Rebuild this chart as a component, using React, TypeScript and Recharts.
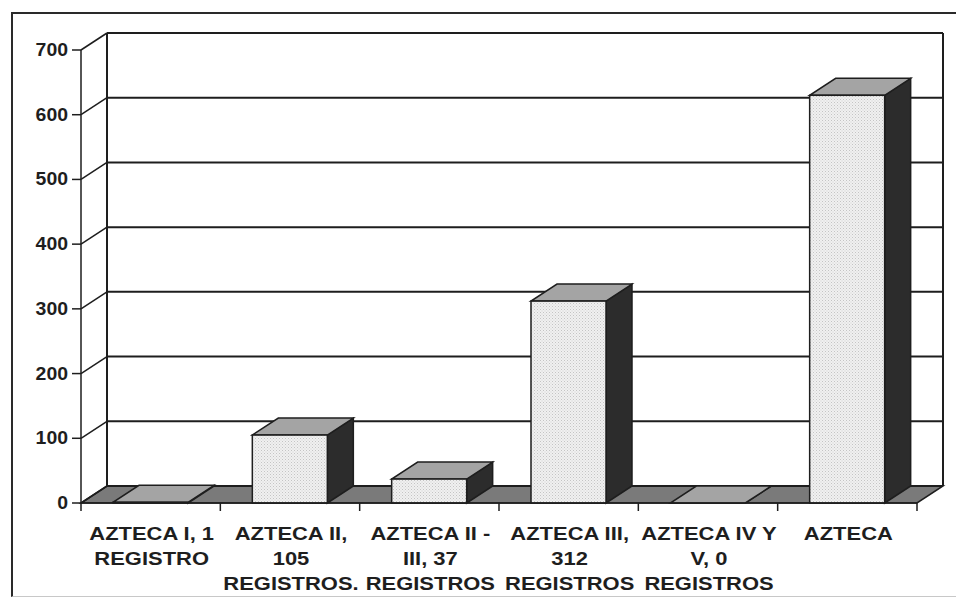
import React from "react"
import { BarChart, Bar, XAxis, YAxis, CartesianGrid } from "recharts"

const categories = [
  "AZTECA I, 1 REGISTRO",
  "AZTECA II, 105 REGISTROS.",
  "AZTECA II - III, 37 REGISTROS",
  "AZTECA III, 312 REGISTROS",
  "AZTECA IV Y V, 0 REGISTROS",
  "AZTECA",
]
const tickLines = [
  ["AZTECA I, 1", "REGISTRO"],
  ["AZTECA II,", "105", "REGISTROS."],
  ["AZTECA II -", "III, 37", "REGISTROS"],
  ["AZTECA III,", "312", "REGISTROS"],
  ["AZTECA IV Y", "V, 0", "REGISTROS"],
  ["AZTECA"],
]
const registros = [1, 105, 37, 312, 0, 630]
const yTicks = [0, 100, 200, 300, 400, 500, 600, 700]

const data = categories.map((name, i) => ({ name, value: registros[i] }))

// layout
const W = 956
const H = 608
const MT = 50
const MR = 39
const YW = 81
const XH = 105
const PLOT_LEFT = YW
const PLOT_RIGHT = W - MR
const PLOT_TOP = MT
const ZERO_Y = H - XH
const BAND = (PLOT_RIGHT - PLOT_LEFT) / categories.length
// 3d depth offset
const DX = 26
const DY = 17

const INK = "#1e1e1e"
const FONT = "'Liberation Sans', Arial, sans-serif"

const GridLine = (props: any) => {
  const { x1, x2, y1, index } = props
  const isTop = Math.abs(y1 - PLOT_TOP) < 1
  const isZero = Math.abs(y1 - ZERO_Y) < 1
  return (
    <g key={`grid-${index}`}>
      {isZero && (
        <polygon
          points={`${x1},${y1} ${x2},${y1} ${x2 + DX},${y1 - DY} ${x1 + DX},${y1 - DY}`}
          fill="#7a7a7a"
          stroke={INK}
          strokeWidth={1.5}
        />
      )}
      {isTop && (
        <>
          <line x1={x1 + DX} y1={y1 - DY} x2={x1 + DX} y2={ZERO_Y - DY} stroke={INK} strokeWidth={2} />
          <line x1={x2 + DX} y1={y1 - DY} x2={x2 + DX} y2={ZERO_Y - DY} stroke={INK} strokeWidth={2} />
        </>
      )}
      <line x1={x1} y1={y1} x2={x1 + DX} y2={y1 - DY} stroke={INK} strokeWidth={1.5} />
      <line x1={x1 + DX} y1={y1 - DY} x2={x2 + DX} y2={y1 - DY} stroke={INK} strokeWidth={2} />
    </g>
  )
}

const Box3D = (props: any) => {
  const { x, y, width, height, index } = props
  const h = Math.max(height || 0, 0)
  const top = y + (height || 0) - h
  const bottom = top + h
  const pid = `stipple-${index}`
  return (
    <g>
      <defs>
        <pattern id={pid} width={3} height={3} patternUnits="userSpaceOnUse">
          <rect width={3} height={3} fill="#f0f0f0" />
          <rect x={0} y={0} width={1} height={1} fill="#c4c4c4" />
          <rect x={1.5} y={1.5} width={1} height={1} fill="#d2d2d2" />
        </pattern>
      </defs>
      <polygon
        points={`${x + width},${top} ${x + width + DX},${top - DY} ${x + width + DX},${bottom - DY} ${x + width},${bottom}`}
        fill="#2c2c2c"
        stroke={INK}
        strokeWidth={1.5}
      />
      <polygon
        points={`${x},${top} ${x + width},${top} ${x + width + DX},${top - DY} ${x + DX},${top - DY}`}
        fill="#a4a4a4"
        stroke={INK}
        strokeWidth={1.5}
      />
      {h > 0 && (
        <rect x={x} y={top} width={width} height={h} fill={`url(#${pid})`} stroke={INK} strokeWidth={1.5} />
      )}
    </g>
  )
}

const XTick = (props: any) => {
  const { x, y, payload } = props
  const idx = payload && typeof payload.index === "number" ? payload.index : categories.indexOf(payload.value)
  const lines = tickLines[idx] || [payload.value]
  const left = x - BAND / 2
  return (
    <g>
      <line x1={left} y1={y} x2={left} y2={y + 8} stroke={INK} strokeWidth={1.5} />
      {idx === categories.length - 1 && (
        <line x1={left + BAND} y1={y} x2={left + BAND} y2={y + 8} stroke={INK} strokeWidth={1.5} />
      )}
      {lines.map((t, i) => (
        <text
          key={i}
          transform={`translate(${x + 1},${y + 37 + i * 25}) scale(1.22,1)`}
          x={0}
          y={0}
          textAnchor="middle"
          fontFamily={FONT}
          fontWeight="bold"
          fontSize={18}
          fill={INK}
        >
          {t}
        </text>
      ))}
    </g>
  )
}

const YTick = (props: any) => {
  const { y, payload } = props
  return (
    <text
      transform={`translate(68,${y + 6}) scale(1.08,1)`}
      x={0}
      y={0}
      textAnchor="end"
      fontFamily={FONT}
      fontWeight="bold"
      fontSize={18}
      fill={INK}
    >
      {payload.value}
    </text>
  )
}

export default function App() {
  return (
    <div style={{ position: "absolute", left: 0, top: 0, width: W, height: H, background: "#fff" }}>
      <div
        style={{
          position: "absolute",
          left: 11,
          top: 12,
          width: 945,
          height: 585,
          borderTop: "2px solid #2a2a2a",
          borderLeft: "2px solid #2a2a2a",
          borderBottom: "1px solid #c8c8c8",
          boxSizing: "border-box",
        }}
      />
      <div style={{ position: "absolute", left: 0, top: 0 }}>
        <BarChart width={W} height={H} data={data} margin={{ top: MT, right: MR, bottom: 0, left: 0 }}>
          <CartesianGrid horizontal={GridLine} vertical={false} />
          <XAxis
            dataKey="name"
            height={XH}
            interval={0}
            tickSize={0}
            tickMargin={0}
            tickLine={false}
            axisLine={{ stroke: INK, strokeWidth: 1.5 }}
            tick={<XTick />}
          />
          <YAxis
            width={YW}
            domain={[0, 700]}
            ticks={yTicks}
            interval={0}
            tickSize={9}
            tickLine={{ stroke: INK, strokeWidth: 1.5 }}
            axisLine={{ stroke: INK, strokeWidth: 1.5 }}
            tick={<YTick />}
          />
          <Bar dataKey="value" barSize={75} shape={<Box3D />} isAnimationActive={false} />
        </BarChart>
      </div>
    </div>
  )
}
